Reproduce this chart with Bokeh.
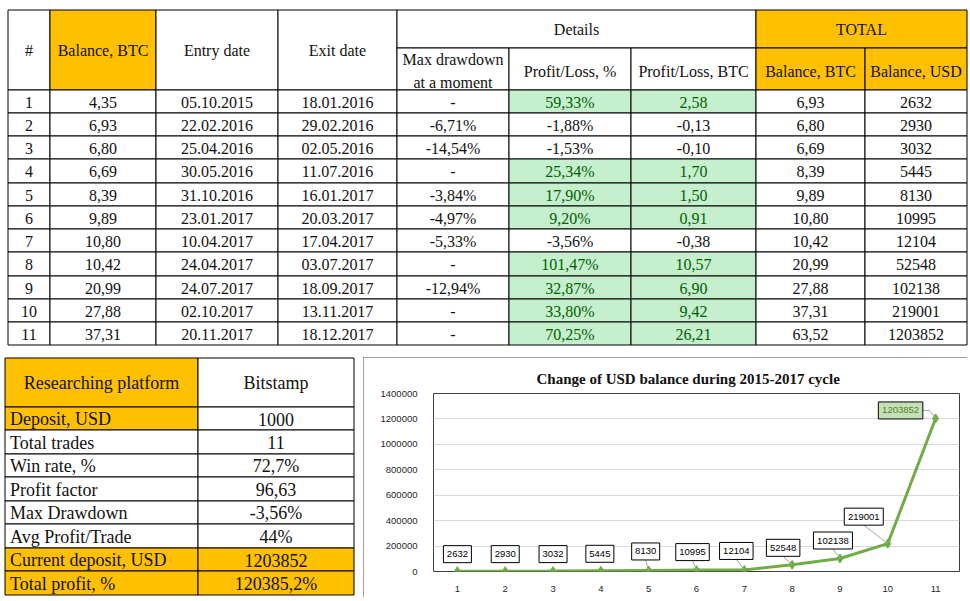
import math
from bokeh.plotting import figure
from bokeh.models import ColumnDataSource, Range1d, FixedTicker, NumeralTickFormatter
from bokeh.layouts import column, row
from bokeh.core.properties import value
from bokeh.embed import file_html
from bokeh.resources import INLINE

# ---------------- data ----------------
trade_no = [1, 2, 3, 4, 5, 6, 7, 8, 9, 10, 11]
balance_btc = [4.35, 6.93, 6.80, 6.69, 8.39, 9.89, 10.80, 10.42, 20.99, 27.88, 37.31]
entry_dates = ["05.10.2015", "22.02.2016", "25.04.2016", "30.05.2016", "31.10.2016", "23.01.2017",
               "10.04.2017", "24.04.2017", "24.07.2017", "02.10.2017", "20.11.2017"]
exit_dates = ["18.01.2016", "29.02.2016", "02.05.2016", "11.07.2016", "16.01.2017", "20.03.2017",
              "17.04.2017", "03.07.2017", "18.09.2017", "13.11.2017", "18.12.2017"]
max_drawdown_pct = [None, -6.71, -14.54, None, -3.84, -4.97, -5.33, None, -12.94, None, None]
profit_loss_pct = [59.33, -1.88, -1.53, 25.34, 17.90, 9.20, -3.56, 101.47, 32.87, 33.80, 70.25]
profit_loss_btc = [2.58, -0.13, -0.10, 1.70, 1.50, 0.91, -0.38, 10.57, 6.90, 9.42, 26.21]
total_btc = [6.93, 6.80, 6.69, 8.39, 9.89, 10.80, 10.42, 20.99, 27.88, 37.31, 63.52]
total_usd = [2632, 2930, 3032, 5445, 8130, 10995, 12104, 52548, 102138, 219001, 1203852]

summary_header = ["Researching platform", "Bitstamp"]
summary_labels = ["Deposit, USD", "Total trades", "Win rate, %", "Profit factor", "Max Drawdown",
                  "Avg  Profit/Trade", "Current deposit, USD", "Total profit, %"]
summary_values = ["1000", "11", "72,7%", "96,63", "-3,56%", "44%", "1203852", "120385,2%"]

header_main = ["#", "Balance, BTC", "Entry date", "Exit date"]
header_groups = ["Details", "TOTAL"]
header_sub = ["Profit/Loss, %", "Profit/Loss, BTC", "Balance, BTC", "Balance, USD"]
header_dd = ["Max drawdown", "at a moment"]

chart_title = "Change of USD balance during 2015-2017 cycle"
y_ticks = [0, 200000, 400000, 600000, 800000, 1000000, 1200000, 1400000]

# ---------------- styles / layout ----------------
ORANGE = "#FFC000"
GREEN_BG = "#C6EFCE"
GREEN_TX = "#006100"
LINE_GREEN = "#70AD47"
TXT = "#111111"
SERIF = value("Liberation Serif")
SANS = value("Liberation Sans")

W = 969
H_TOP = 350
H_BOT = 250
W_BL = 363


def fmt2(v, suffix=""):
    return f"{v:.2f}".replace(".", ",") + suffix


def base_fig(w, h):
    f = figure(width=w, height=h, x_range=Range1d(0, w), y_range=Range1d(h, 0),
               output_backend="svg", toolbar_location=None, min_border=0,
               x_axis_location=None, y_axis_location=None, outline_line_color=None)
    f.grid.visible = False
    return f


# ================= top table =================
top = base_fig(W, H_TOP)
cx = [7.5, 49.5, 155.5, 277.5, 396.5, 508.5, 630.5, 755.5, 864.5, 966.5]
y_top, y_split, y_head = 9.5, 47.5, 89.5
row_h = 23.27
ry = [math.floor(89 + i * row_h) + 0.5 for i in range(12)]

cells = dict(left=[], right=[], top=[], bottom=[], fill=[])
texts = dict(x=[], y=[], text=[], color=[])


def add_cell(l, r, t, b, fill):
    cells["left"].append(l); cells["right"].append(r)
    cells["top"].append(t); cells["bottom"].append(b); cells["fill"].append(fill)


def add_text(x, y, s, color=TXT):
    texts["x"].append(x); texts["y"].append(y); texts["text"].append(s); texts["color"].append(color)


# header
for i, h in enumerate(header_main):
    add_cell(cx[i], cx[i + 1], y_top, y_head, ORANGE if i == 1 else "white")
    add_text((cx[i] + cx[i + 1]) / 2, (y_top + y_head) / 2, h)
add_cell(cx[4], cx[7], y_top, y_split, "white")
add_text((cx[4] + cx[7]) / 2, (y_top + y_split) / 2 + 0.5, header_groups[0])
add_cell(cx[7], cx[9], y_top, y_split, ORANGE)
add_text((cx[7] + cx[9]) / 2, (y_top + y_split) / 2 + 0.5, header_groups[1])
add_cell(cx[4], cx[5], y_split, y_head, "white")
add_text((cx[4] + cx[5]) / 2, y_split + 11.5, header_dd[0])
add_text((cx[4] + cx[5]) / 2, y_split + 34, header_dd[1])
for j, h in enumerate(header_sub):
    c = 5 + j
    add_cell(cx[c], cx[c + 1], y_split, y_head, ORANGE if c >= 7 else "white")
    add_text((cx[c] + cx[c + 1]) / 2, (y_split + y_head) / 2 + 2, h)

# body
for r in range(len(trade_no)):
    pos = profit_loss_pct[r] > 0
    vals = [str(trade_no[r]), fmt2(balance_btc[r]), entry_dates[r], exit_dates[r],
            "-" if max_drawdown_pct[r] is None else fmt2(max_drawdown_pct[r], "%"),
            fmt2(profit_loss_pct[r], "%"), fmt2(profit_loss_btc[r]),
            fmt2(total_btc[r]), str(total_usd[r])]
    for c, s in enumerate(vals):
        green = pos and c in (5, 6)
        add_cell(cx[c], cx[c + 1], ry[r], ry[r + 1], GREEN_BG if green else "white")
        add_text((cx[c] + cx[c + 1]) / 2, (ry[r] + ry[r + 1]) / 2 + 0.5, s, GREEN_TX if green else TXT)

top.quad(left="left", right="right", top="top", bottom="bottom", fill_color="fill",
         line_color="black", line_width=1, source=ColumnDataSource(cells))
top.text(x="x", y="y", text="text", text_color="color", text_align="center", text_baseline="middle",
         text_font=SERIF, text_font_size="16px", source=ColumnDataSource(texts))

# ================= bottom-left summary table =================
bl = base_fig(W_BL, H_BOT)
bx = [4.5, 197.5, 353.5]
by = [7.5] + [math.floor(56 + i * 23.56) + 0.5 for i in range(len(summary_labels) + 1)]
orange_left = {0, 6, 7}
orange_right = {6, 7}
bcells = dict(left=[], right=[], top=[], bottom=[], fill=[])
btexts = dict(x=[], y=[], text=[], align=[])


def badd(l, r, t, b, fill):
    bcells["left"].append(l); bcells["right"].append(r)
    bcells["top"].append(t); bcells["bottom"].append(b); bcells["fill"].append(fill)


badd(bx[0], bx[1], by[0], by[1], ORANGE)
badd(bx[1], bx[2], by[0], by[1], "white")
btexts["x"] += [(bx[0] + bx[1]) / 2, (bx[1] + bx[2]) / 2]
btexts["y"] += [(by[0] + by[1]) / 2] * 2
btexts["text"] += summary_header
btexts["align"] += ["center", "center"]
for i, (lab, val) in enumerate(zip(summary_labels, summary_values)):
    t, b = by[i + 1], by[i + 2]
    badd(bx[0], bx[1], t, b, ORANGE if i in orange_left else "white")
    badd(bx[1], bx[2], t, b, ORANGE if i in orange_right else "white")
    btexts["x"] += [bx[0] + 5, (bx[1] + bx[2]) / 2]
    btexts["y"] += [(t + b) / 2 + 0.5] * 2
    btexts["text"] += [lab, val]
    btexts["align"] += ["left", "center"]

bl.quad(left="left", right="right", top="top", bottom="bottom", fill_color="fill",
        line_color="black", line_width=1, source=ColumnDataSource(bcells))
bl.text(x="x", y="y", text="text", text_align="align", text_baseline="middle",
        text_font=SERIF, text_font_size="18px", text_color=TXT, source=ColumnDataSource(btexts))

# ================= chart =================
FW, FH = 526, 178
Y_MAX = y_ticks[-1]
chart = figure(frame_width=FW, frame_height=FH, x_range=Range1d(0.5, 11.5), y_range=Range1d(0, Y_MAX),
               output_backend="svg", toolbar_location=None,
               min_border_left=70, min_border_right=8, min_border_top=36, min_border_bottom=26,
               margin=(7, 2, 3, 0))
for f in (bl, chart):
    try:
        f.frame_align = False
    except AttributeError:
        pass
chart.styles = {"outline": "1px solid #7F7F7F", "outline-offset": "-1px"}
chart.outline_line_color = "#404040"
chart.outline_line_width = 1
chart.xgrid.visible = False
chart.ygrid.grid_line_color = "#D9D9D9"
chart.ygrid.ticker = FixedTicker(ticks=y_ticks)
chart.xaxis.ticker = FixedTicker(ticks=trade_no)
chart.yaxis.ticker = FixedTicker(ticks=y_ticks)
chart.yaxis.formatter = NumeralTickFormatter(format="0")
for ax in (chart.xaxis[0], chart.yaxis[0]):
    ax.axis_line_color = None
    ax.major_tick_line_color = None
    ax.minor_tick_line_color = None
    ax.major_label_text_font = "Liberation Sans"
    ax.major_label_text_font_size = "9.5px"
    ax.major_label_text_color = "#262626"
chart.yaxis.major_label_standoff = 10
chart.xaxis.major_label_standoff = 8

chart.title.text = chart_title
chart.title.text_font = "Liberation Serif"
chart.title.text_font_style = "bold"
chart.title.text_font_size = "15px"
chart.title.text_color = TXT
chart.title.align = "left"
chart.title.offset = 103
chart.title.standoff = 14

chart.line(x=trade_no, y=total_usd, line_color=LINE_GREEN, line_width=3)
chart.scatter(x=trade_no, y=total_usd, marker="diamond", size=9, color=LINE_GREEN)

# data labels (offsets in screen pixels, converted through the frame scale)
label_dx = [0, 0, 0, -1, -3, -4, -8, -9, -7, -24, -35]
label_dy = [-17, -17, -17, -17, -19, -18, -19, -17, -18, -27, -8]
leader = ["none"] * 4 + ["below"] * 6 + ["side"]
sx = 11.0 / FW
sy = Y_MAX / FH
vmax = max(total_usd)
lx, ly, bw, fills, tcol = [], [], [], [], []
lead_xs, lead_ys = [], []
for t, v, dx, dy, ld in zip(trade_no, total_usd, label_dx, label_dy, leader):
    x = t + dx * sx
    y = v - dy * sy
    w = 6 + 5.5 * len(str(v))
    lx.append(x); ly.append(y); bw.append(w)
    fills.append("#C5E0B4" if v == vmax else "white")
    tcol.append("#548235" if v == vmax else "black")
    if ld == "below":
        lead_xs.append([x, t]); lead_ys.append([y - 8.5 * sy, v])
    elif ld == "side":
        lead_xs.append([x + (w / 2) * sx, t - 6 * sx, t]); lead_ys.append([y, y, v])

chart.multi_line(xs=lead_xs, ys=lead_ys, line_color="#A6A6A6", line_width=1)
chart.rect(x=lx, y=ly, width=bw, height=17, width_units="screen", height_units="screen",
           fill_color=fills, line_color="black", line_width=1)
chart.text(x=lx, y=ly, text=[str(v) for v in total_usd], text_color=tcol, text_align="center",
           text_baseline="middle", text_font=SANS, text_font_size="9.5px")

page = column(top, row(bl, chart))
open("out.html", "w").write(file_html(page, INLINE))
